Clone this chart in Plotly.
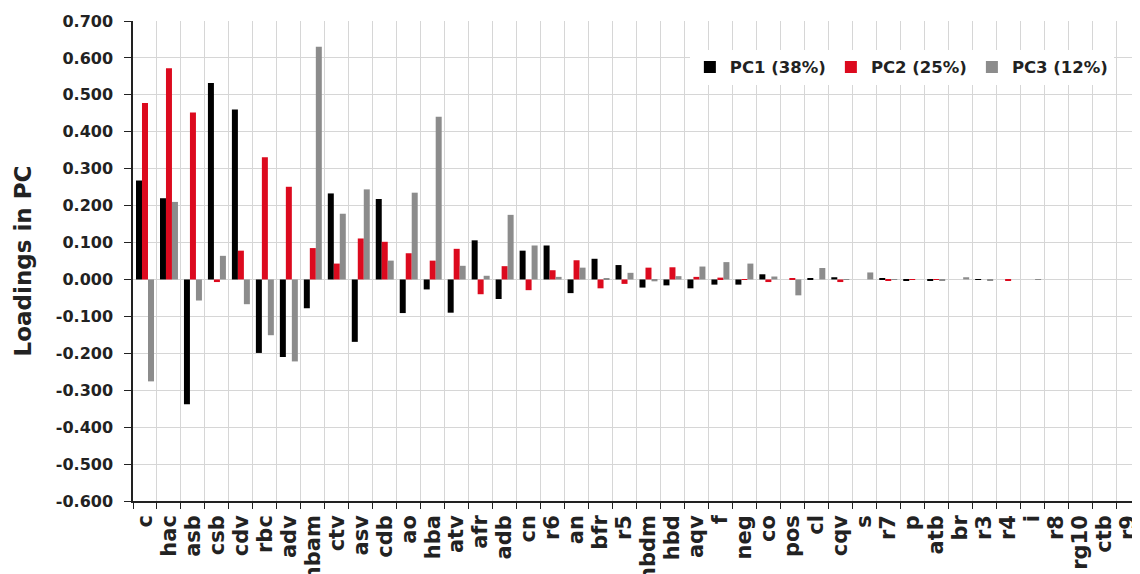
import plotly.graph_objects as go

categories = ["c", "hac", "asb", "csb", "cdv", "rbc", "adv", "hbam", "ctv", "asv",
              "cdb", "ao", "hba", "atv", "afr", "adb", "cn", "r6", "an", "bfr",
              "r5", "hbdm", "hbd", "aqv", "f", "neg", "co", "pos", "cl", "cqv",
              "s", "r7", "p", "atb", "br", "r3", "r4", "i", "r8", "rg10", "ctb", "r9"]

pc1 = [0.268, 0.220, -0.338, 0.532, 0.460, -0.199, -0.210, -0.078, 0.233, -0.169,
       0.218, -0.091, -0.027, -0.090, 0.106, -0.053, 0.078, 0.092, -0.037, 0.056,
       0.039, -0.022, -0.016, -0.024, -0.014, -0.014, 0.014, 0.000, 0.002, 0.006,
       0.000, 0.004, -0.002, -0.002, 0.000, 0.001, 0.000, 0.000, 0.000, 0.000, 0.000, 0.000]

pc2 = [0.478, 0.572, 0.452, -0.007, 0.078, 0.331, 0.251, 0.085, 0.043, 0.111,
       0.102, 0.071, 0.051, 0.083, -0.040, 0.036, -0.029, 0.025, 0.052, -0.024,
       -0.012, 0.032, 0.033, 0.007, 0.005, 0.001, -0.007, 0.004, 0.000, -0.007,
       0.000, -0.002, -0.001, -0.001, 0.000, 0.000, -0.002, 0.000, 0.000, 0.000, 0.000, 0.000]

pc3 = [-0.276, 0.210, -0.057, 0.064, -0.067, -0.151, -0.222, 0.630, 0.178, 0.244,
       0.051, 0.235, 0.441, 0.037, 0.010, 0.175, 0.092, 0.007, 0.032, 0.004,
       0.018, -0.005, 0.009, 0.035, 0.047, 0.043, 0.008, -0.043, 0.031, 0.001,
       0.019, 0.001, 0.000, -0.002, 0.006, -0.002, 0.000, 0.001, 0.000, 0.000, 0.000, 0.000]

series_names = ["PC1 (38%)", "PC2 (25%)", "PC3 (12%)"]
series_colors = ["#000000", "#dc0a1e", "#8c8c8c"]

y_tickvals = [0.7, 0.6, 0.5, 0.4, 0.3, 0.2, 0.1, 0.0, -0.1, -0.2, -0.3, -0.4, -0.5, -0.6]
y_ticktext = ["0.700", "0.600", "0.500", "0.400", "0.300", "0.200", "0.100", "0.000",
              "-0.100", "-0.200", "-0.300", "-0.400", "-0.500", "-0.600"]

FONT = "DejaVu Sans"
GRID = "#d6d6d6"
TXT = "#222222"

fig = go.Figure()
for name, vals, col in zip(series_names, [pc1, pc2, pc3], series_colors):
    fig.add_trace(go.Bar(x=categories, y=vals, name=name,
                         marker=dict(color=col, line=dict(width=0))))

fig.update_layout(
    width=1132, height=566,
    margin=dict(l=125, r=0, t=13, b=73),
    paper_bgcolor="white", plot_bgcolor="white",
    barmode="group", bargap=0.25, bargroupgap=0,
    showlegend=True,
    legend=dict(orientation="h", x=0.553, y=0.94, xanchor="left", yanchor="top",
                bgcolor="white", borderwidth=0, itemwidth=30,
                font=dict(family=FONT, size=16.5, color=TXT, weight="bold")),
    font=dict(family=FONT, color=TXT),
)

fig.update_xaxes(
    range=[-0.5, 41.5], type="category",
    tickmode="linear", tick0=0, dtick=1,
    tickson="boundaries", ticks="outside", ticklen=6, tickcolor=TXT, tickwidth=1.3,
    showline=True, linecolor=TXT, linewidth=1.5,
    showgrid=True, gridcolor=GRID, gridwidth=1,
    tickangle=-90, automargin=False, ticklabelstandoff=4,
    ticklabeloverflow="allow",
    tickfont=dict(family=FONT, size=21, color=TXT, weight="bold"),
)

fig.update_yaxes(
    range=[-0.6, 0.7], tickvals=y_tickvals, ticktext=y_ticktext,
    ticks="outside", ticklen=7, tickcolor=TXT, tickwidth=1.3,
    showline=True, linecolor=TXT, linewidth=1.5,
    showgrid=True, gridcolor=GRID, gridwidth=1,
    zeroline=True, zerolinecolor=GRID, zerolinewidth=1,
    automargin=False, ticklabelstandoff=8,
    tickfont=dict(family=FONT, size=16, color=TXT, weight="bold"),
    title=dict(text="Loadings in PC", standoff=18,
               font=dict(family=FONT, size=23, color=TXT, weight="bold")),
)

fig.write_html("out.html")
